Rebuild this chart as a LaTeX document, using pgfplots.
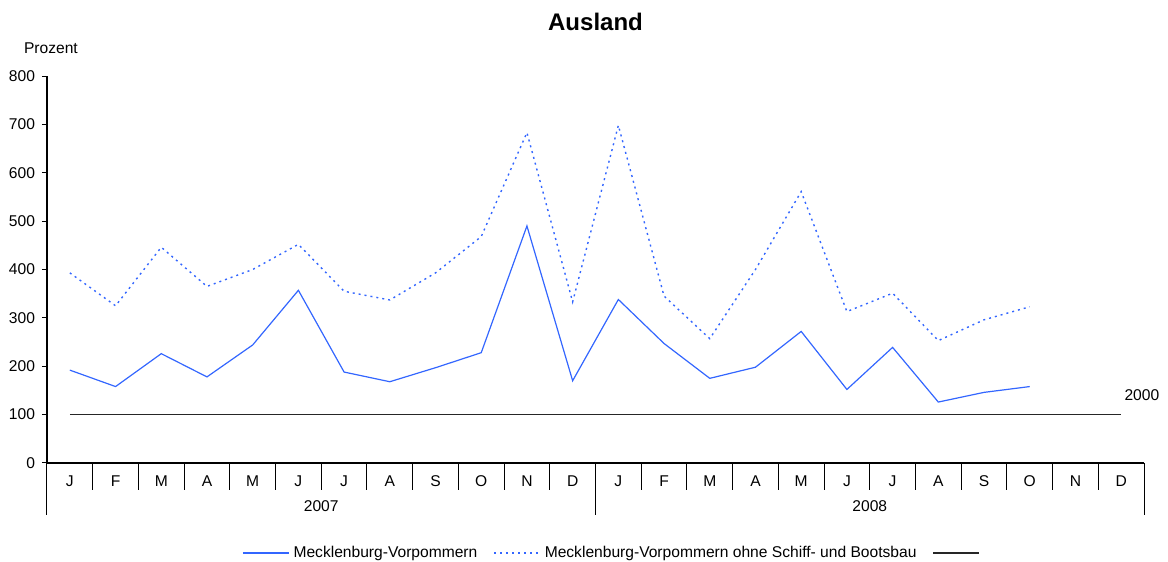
\documentclass[border=0pt]{standalone}
\usepackage{fontspec}
\setmainfont{Liberation Sans}
\usepackage{pgfplots}
\usepackage{pgfplotstable}
\pgfplotsset{compat=1.18}
\definecolor{mvblue}{RGB}{51,102,255}
\pgfplotstableread{
x y
0 192
1 158
2 226
3 178
4 244
5 357
6 188
7 168
8 197
9 228
10 490
11 170
12 338
13 247
14 175
15 198
16 272
17 152
18 239
19 126
20 146
21 158
}\mv
\pgfplotstableread{
x y
0 393
1 325
2 446
3 365
4 400
5 452
6 355
7 337
8 393
9 468
10 683
11 333
12 698
13 345
14 257
15 400
16 561
17 313
18 351
19 253
20 296
21 323
}\mvohne
\pgfplotstableread{
x y
0 100
1 100
2 100
3 100
4 100
5 100
6 100
7 100
8 100
9 100
10 100
11 100
12 100
13 100
14 100
15 100
16 100
17 100
18 100
19 100
20 100
21 100
22 100
23 100
}\basis
\begin{document}
\begin{tikzpicture}[x=1pt,y=1pt]
\useasboundingbox (0,0) rectangle (584,281);
\begin{axis}[
  at={(23.5pt,49.5pt)}, anchor=south west,
  scale only axis, width=548.5pt, height=193.5pt,
  xmin=-0.5, xmax=23.5, ymin=0, ymax=800,
  axis lines*=left,
  axis line style={black, line width=0.6pt},
  clip=false,
  ytick={0,100,...,800},
  xtick={0,...,23},
  xticklabels={J,F,M,A,M,J,J,A,S,O,N,D,J,F,M,A,M,J,J,A,S,O,N,D},
  x tick style={draw=none},
  y tick style={black, line width=0.5pt},
  tick align=outside,
  major tick length=2.5pt,
  xticklabel style={anchor=center, yshift=-6.5pt},
  every tick label/.append style={font=\fontsize{7.8}{9}\selectfont},
  /pgf/number format/assume math mode=true,
  legend columns=3,
  legend style={at={(0.5178,-0.2326)}, anchor=center, draw=none,
    font=\fontsize{7.8}{9}\selectfont,
    /tikz/every even column/.append style={column sep=6pt},
    inner sep=0pt},
  legend image code/.code={\draw[#1] (0pt,0pt) -- (23pt,0pt);},
]
\addplot[mvblue, line width=0.6pt] table[x=x,y=y]{\mv};
\addlegendentry{Mecklenburg-Vorpommern}
\addplot[mvblue, line width=0.7pt, dash pattern=on 1pt off 2pt] table[x=x,y=y]{\mvohne};
\addlegendentry{Mecklenburg-Vorpommern ohne Schiff- und Bootsbau}
\addplot[black!85, line width=0.6pt] table[x=x,y=y]{\basis};
\addlegendentry{}
\pgfplotsinvokeforeach{1,...,23}{
  \draw[black, line width=0.5pt] (axis cs:#1-0.5,0) -- ([yshift=-13.5pt]axis cs:#1-0.5,0);
}
\draw[black, line width=0.5pt] (axis cs:-0.5,0) -- ([yshift=-26pt]axis cs:-0.5,0);
\draw[black, line width=0.5pt] (axis cs:11.5,0) -- ([yshift=-26pt]axis cs:11.5,0);
\draw[black, line width=0.5pt] (axis cs:23.5,0) -- ([yshift=-26pt]axis cs:23.5,0);
\node[font=\fontsize{7.8}{9}\selectfont] at ([yshift=-21.5pt]axis cs:5.5,0) {2007};
\node[font=\fontsize{7.8}{9}\selectfont] at ([yshift=-21.5pt]axis cs:17.5,0) {2008};
\node[font=\fontsize{7.8}{9}\selectfont, anchor=west] at ([xshift=-3pt]axis cs:23.05,140) {2000};
\node[font=\fontsize{7.8}{9}\selectfont, anchor=west] at ([xshift=-15pt,yshift=14pt]axis cs:-0.5,800) {Prozent};
\node[font=\fontsize{12}{14}\selectfont\bfseries] at ([yshift=27pt]axis cs:11.5,800) {Ausland};
\end{axis}
\end{tikzpicture}
\end{document}
